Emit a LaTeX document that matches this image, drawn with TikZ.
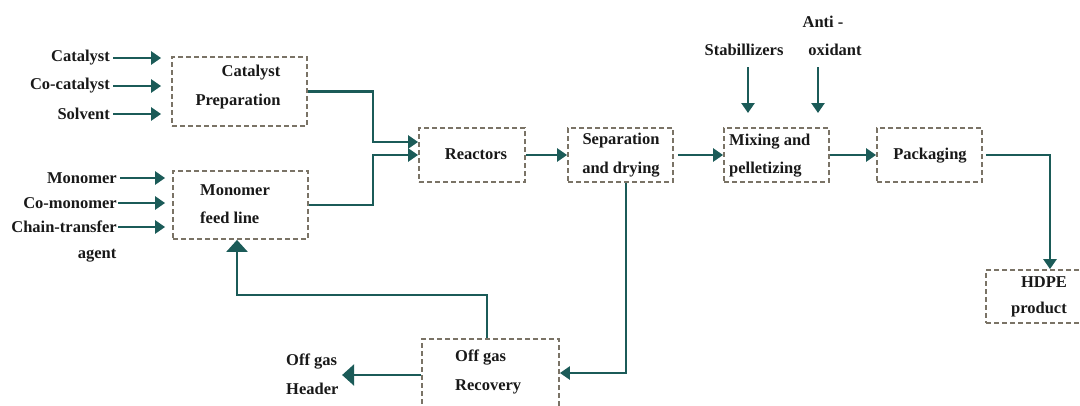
\documentclass[tikz,border=0pt]{standalone}
\usepackage{fontspec}
\setmainfont{Liberation Serif}
\usetikzlibrary{arrows.meta}
\definecolor{teal1}{HTML}{1B5B58}
\definecolor{dashgray}{HTML}{7A7366}
\tikzset{
  box/.style={draw=dashgray, line width=1.8pt, dash pattern=on 5pt off 3pt, rectangle, inner sep=0pt},
  txt/.style={font=\fontsize{16.5}{19}\selectfont\bfseries, inner sep=0pt, text=black!90},
  arr/.style={draw=teal1, line width=2.6pt, -{Triangle[length=10pt,width=13pt]}},
  bigarr/.style={draw=teal1, line width=2.6pt, -{Triangle[length=12pt,width=21pt]}},
  ln/.style={draw=teal1, line width=2.6pt}
}
\begin{document}
\begin{tikzpicture}[x=1pt,y=-1pt]
\useasboundingbox (0,0) rectangle (1080,405);
\fill[white] (0,0) rectangle (1080,405);
% boxes
\node[box, minimum width=135pt, minimum height=69pt] (cat) at (239.5,91.5) {};
\node[box, minimum width=135pt, minimum height=68pt] (mono) at (240.5,205) {};
\node[box, minimum width=106pt, minimum height=54pt] (reac) at (472,155) {};
\node[box, minimum width=105pt, minimum height=54pt] (sep) at (620.5,155) {};
\node[box, minimum width=105pt, minimum height=54pt] (mix) at (776.5,155) {};
\node[box, minimum width=105pt, minimum height=54pt] (pack) at (929.5,155) {};
\node[box, minimum width=104pt, minimum height=53pt] (hdpe) at (1038,296.5) {};
\node[box, minimum width=137pt, minimum height=74pt] (ogr) at (490.5,376) {};
% box texts
\node[txt] (tcat1) at (251,73) {Catalyst};
\node[txt] (tcat2) at (238,102) {Preparation};
\node[txt, anchor=west] (tmono1) at (200,190) {Monomer};
\node[txt, anchor=west] (tmono2) at (200,218) {feed line};
\node[txt] (treac) at (476,154) {Reactors};
\node[txt] (tsep1) at (621,141) {Separation};
\node[txt] (tsep2) at (621,170) {and drying};
\node[txt, anchor=west] (tmix1) at (729,142) {Mixing and};
\node[txt, anchor=west] (tmix2) at (729,170) {pelletizing};
\node[txt] (tpack) at (930,156) {Packaging};
\node[txt] (thdpe1) at (1044,282) {HDPE};
\node[txt] (thdpe2) at (1039,310) {product};
\node[txt, anchor=west] (togr1) at (455,358) {Off gas};
\node[txt, anchor=west] (togr2) at (455,387) {Recovery};
% input labels
\node[txt, anchor=east] (lcat) at (110,58) {Catalyst};
\node[txt, anchor=east] (lcoc) at (110,86) {Co-catalyst};
\node[txt, anchor=east] (lsol) at (110,114) {Solvent};
\node[txt, anchor=east] (lmon) at (117,178) {Monomer};
\node[txt, anchor=east] (lcom) at (117,203) {Co-monomer};
\node[txt, anchor=east] (lcta) at (117,227) {Chain-transfer};
\node[txt] (lagent) at (97,256) {agent};
\node[txt] (lstab) at (744,50) {Stabillizers};
\node[txt] (lanti) at (823,22) {Anti -};
\node[txt] (loxi) at (835,50) {oxidant};
\node[txt, anchor=west] (lhead1) at (286,362) {Off gas};
\node[txt, anchor=west] (lhead2) at (286,389) {Header};
% coordinates
\coordinate (j1) at (373,0);
\coordinate (sa) at (748,67);
\coordinate (sb) at (748,113);
\coordinate (oa) at (818,67);
\coordinate (ob) at (818,113);
\coordinate (j2) at (1050,0);
\coordinate (j3) at (626,0);
\coordinate (j4) at (487,295);
\coordinate (j5) at (237,295);
% input arrows
\draw[arr] ([xshift=3pt]lcat.east) -- ([xshift=-10pt]lcat.east -| cat.west);
\draw[arr] ([xshift=3pt]lcoc.east) -- ([xshift=-10pt]lcoc.east -| cat.west);
\draw[arr] ([xshift=3pt]lsol.east) -- ([xshift=-10pt]lsol.east -| cat.west);
\draw[arr] ([xshift=3pt]lmon.east) -- ([xshift=-7pt]lmon.east -| mono.west);
\draw[arr] ([xshift=1pt]lcom.east) -- ([xshift=-7pt]lcom.east -| mono.west);
\draw[arr] ([xshift=1pt]lcta.east) -- ([xshift=-7pt]lcta.east -| mono.west);
\draw[arr] (sa) -- (sb);
\draw[arr] (oa) -- (ob);
% main flow
\draw[arr] (cat.east) -- (cat.east -| j1) |- ([yshift=13pt]reac.west);
\draw[arr] (mono.east) -- (mono.east -| j1) |- (reac.west);
\draw[arr] (reac.east) -- (sep.west);
\draw[arr] ([xshift=4pt]sep.east) -- (mix.west);
\draw[arr] (mix.east) -- (pack.west);
\draw[arr] ([xshift=3pt]pack.east) -- (pack.east -| j2) -- (j2 |- hdpe.north);
\draw[arr] (sep.south -| j3) |- ([yshift=3pt]ogr.east);
\draw[bigarr] (j4 |- ogr.north) -- (j4) -- (j5) -- (j5 |- mono.south);
\draw[bigarr] ([yshift=1pt]ogr.west) -- ([xshift=-79pt,yshift=1pt]ogr.west);
\end{tikzpicture}
\end{document}
